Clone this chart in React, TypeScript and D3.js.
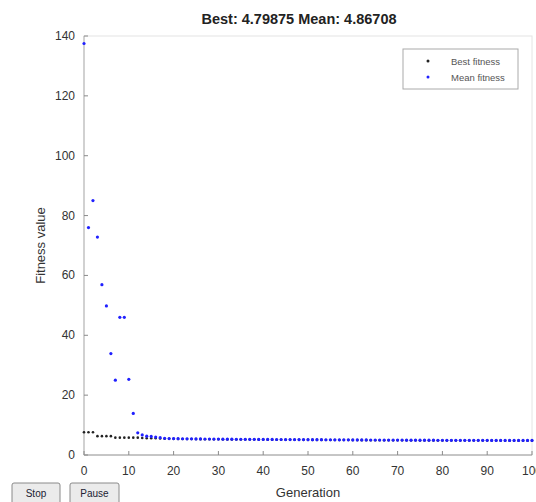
import React, { useEffect, useRef } from "react";
import * as d3 from "d3";

// generation 0..100
const bestFitness = [
  7.6, 7.6, 7.6, 6.3, 6.3, 6.3, 6.3, 5.8, 5.8, 5.8, 5.8, 5.8, 5.8,
  5.7, 5.6, 5.6, 5.6, 5.5, 5.45, 5.42, 5.4,
  5.38, 5.36, 5.35, 5.33, 5.31, 5.3, 5.28, 5.27, 5.25, 5.24,
  5.23, 5.22, 5.21, 5.2, 5.19, 5.18, 5.17, 5.16, 5.15, 5.14,
  5.13, 5.12, 5.11, 5.11, 5.1, 5.09, 5.08, 5.07, 5.07, 5.06,
  5.05, 5.04, 5.04, 5.03, 5.02, 5.01, 5.01, 5.0, 4.99, 4.98,
  4.98, 4.97, 4.96, 4.95, 4.95, 4.94, 4.93, 4.93, 4.92, 4.91,
  4.91, 4.9, 4.89, 4.89, 4.88, 4.88, 4.87, 4.87, 4.86, 4.86,
  4.85, 4.85, 4.84, 4.84, 4.83, 4.83, 4.82, 4.82, 4.82, 4.81,
  4.81, 4.81, 4.81, 4.8, 4.8, 4.8, 4.8, 4.8, 4.8, 4.79875,
];

const meanFitness = [
  137.5, 76, 85, 72.8, 56.9, 49.8, 33.9, 25, 46, 46, 25.3, 13.9, 7.4,
  6.7, 6.3, 6.2, 6.0, 5.8, 5.6, 5.5, 5.5,
  5.45, 5.43, 5.42, 5.4, 5.38, 5.37, 5.35, 5.34, 5.32, 5.31,
  5.3, 5.29, 5.28, 5.27, 5.26, 5.25, 5.24, 5.23, 5.22, 5.21,
  5.2, 5.19, 5.18, 5.18, 5.17, 5.16, 5.15, 5.14, 5.14, 5.13,
  5.12, 5.11, 5.11, 5.1, 5.09, 5.08, 5.08, 5.07, 5.06, 5.05,
  5.05, 5.04, 5.03, 5.02, 5.02, 5.01, 5.0, 5.0, 4.99, 4.98,
  4.98, 4.97, 4.96, 4.96, 4.95, 4.95, 4.94, 4.94, 4.93, 4.93,
  4.92, 4.92, 4.91, 4.91, 4.9, 4.9, 4.9, 4.89, 4.89, 4.89,
  4.88, 4.88, 4.88, 4.88, 4.87, 4.87, 4.87, 4.87, 4.87, 4.86708,
];

const xTicks = [0, 10, 20, 30, 40, 50, 60, 70, 80, 90, 100];
const yTicks = [0, 20, 40, 60, 80, 100, 120, 140];
const legendLabels = ["Best fitness", "Mean fitness"];
const seriesColors = ["#222222", "#2020ff"];

const W = 536;
const H = 502;
const margin = { left: 84, right: 4, top: 36, bottom: 47 };

export default function App() {
  const ref = useRef<SVGSVGElement>(null);

  useEffect(() => {
    const svg = d3.select(ref.current);
    svg.selectAll("*").remove();

    const x = d3.scaleLinear().domain([0, 100]).range([margin.left, W - margin.right]);
    const y = d3.scaleLinear().domain([0, 140]).range([H - margin.bottom, margin.top]);
    const font = "Arial, 'Liberation Sans', sans-serif";

    svg.append("rect").attr("width", W).attr("height", H).attr("fill", "#fff");

    // plot box
    svg.append("rect")
      .attr("x", x(0)).attr("y", y(140))
      .attr("width", x(100) - x(0)).attr("height", y(0) - y(140))
      .attr("fill", "none").attr("stroke", "#e4e4e4");

    // axes lines
    svg.append("line")
      .attr("x1", x(0)).attr("x2", x(100)).attr("y1", y(0)).attr("y2", y(0))
      .attr("stroke", "#9a9a9a").attr("stroke-width", 1.2);
    svg.append("line")
      .attr("x1", x(0)).attr("x2", x(0)).attr("y1", y(0)).attr("y2", y(140))
      .attr("stroke", "#bdbdbd").attr("stroke-width", 1.2);

    // x ticks
    const xt = svg.append("g");
    xt.selectAll("line").data(xTicks).join("line")
      .attr("x1", d => x(d)).attr("x2", d => x(d))
      .attr("y1", y(0)).attr("y2", y(0) - 4)
      .attr("stroke", "#8a8a8a");
    xt.selectAll("text").data(xTicks).join("text")
      .attr("x", d => x(d)).attr("y", y(0) + 20)
      .attr("text-anchor", "middle")
      .attr("font-family", font).attr("font-size", 12).attr("fill", "#333")
      .text(d => d);

    // y ticks
    const yt = svg.append("g");
    yt.selectAll("line").data(yTicks).join("line")
      .attr("x1", x(0)).attr("x2", x(0) + 4)
      .attr("y1", d => y(d)).attr("y2", d => y(d))
      .attr("stroke", "#8a8a8a");
    yt.selectAll("text").data(yTicks).join("text")
      .attr("x", x(0) - 9).attr("y", d => y(d) + 4)
      .attr("text-anchor", "end")
      .attr("font-family", font).attr("font-size", 12).attr("fill", "#333")
      .text(d => d);

    // points
    const series = [bestFitness, meanFitness];
    series.forEach((vals, i) => {
      svg.append("g").selectAll("circle").data(vals).join("circle")
        .attr("cx", (_, g) => x(g)).attr("cy", d => y(d))
        .attr("r", i === 0 ? 1.3 : 1.6)
        .attr("fill", seriesColors[i]);
    });

    // title and labels
    svg.append("text")
      .attr("x", 299).attr("y", 24)
      .attr("text-anchor", "middle")
      .attr("font-family", font).attr("font-size", 14.5).attr("font-weight", "bold")
      .attr("fill", "#222")
      .text("Best: 4.79875 Mean: 4.86708");
    svg.append("text")
      .attr("x", (x(0) + x(100)) / 2).attr("y", 497)
      .attr("text-anchor", "middle")
      .attr("font-family", font).attr("font-size", 13).attr("fill", "#333")
      .text("Generation");
    svg.append("text")
      .attr("transform", `translate(45,${(y(0) + y(140)) / 2}) rotate(-90)`)
      .attr("text-anchor", "middle")
      .attr("font-family", font).attr("font-size", 13).attr("fill", "#333")
      .text("Fitness value");

    // legend
    const lg = svg.append("g").attr("transform", "translate(403,49)");
    lg.append("rect").attr("width", 115).attr("height", 40)
      .attr("fill", "#fff").attr("stroke", "#aaa");
    legendLabels.forEach((label, i) => {
      lg.append("circle").attr("cx", 25).attr("cy", 12 + i * 16).attr("r", 1.5)
        .attr("fill", seriesColors[i]);
      lg.append("text").attr("x", 48).attr("y", 15.5 + i * 16)
        .attr("font-family", font).attr("font-size", 9.5).attr("fill", "#555")
        .text(label);
    });

    // buttons
    [{ label: "Stop", x0: 12, w: 48 }, { label: "Pause", x0: 70, w: 49 }].forEach(b => {
      svg.append("rect").attr("x", b.x0).attr("y", 483).attr("width", b.w).attr("height", 22)
        .attr("rx", 2).attr("fill", "#ebebeb").attr("stroke", "#8a8a8a");
      svg.append("text").attr("x", b.x0 + b.w / 2).attr("y", 497)
        .attr("text-anchor", "middle")
        .attr("font-family", font).attr("font-size", 10).attr("fill", "#223")
        .text(b.label);
    });
  }, []);

  return (
    <div style={{ position: "absolute", left: 0, top: 0 }}>
      <svg ref={ref} width={W} height={H} style={{ display: "block" }} />
    </div>
  );
}
